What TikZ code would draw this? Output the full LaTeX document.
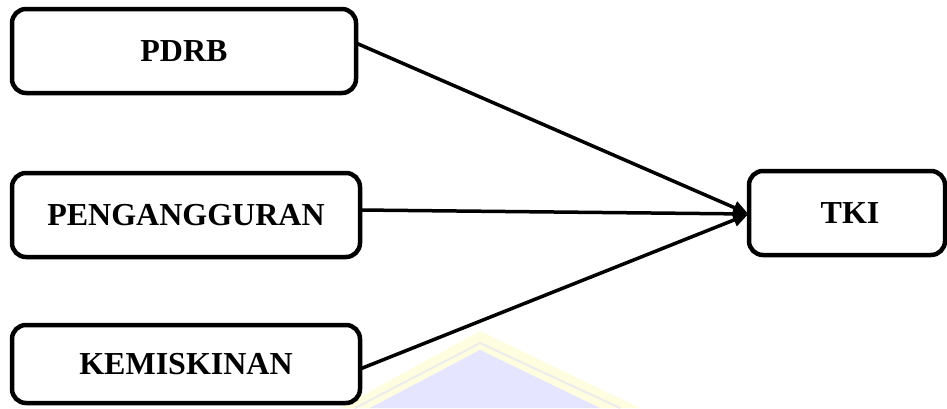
\documentclass[tikz,border=0pt]{standalone}
\usepackage{fontspec}
\setmainfont{Liberation Serif}
\usetikzlibrary{arrows.meta,calc}
\begin{document}
\begin{tikzpicture}[x=1pt,y=-1pt,
  box/.style={draw=black,line width=4.5pt,rounded corners=14pt,inner sep=0pt,outer sep=0pt,
    font=\fontsize{32}{38}\selectfont\bfseries,minimum height=84pt},
  conn/.style={line width=3.5pt,-{Triangle[length=15pt,width=13pt]},shorten >=1pt}]
\useasboundingbox (0,0) rectangle (947,408);
% faint watermark
\fill[yellow!12] (340,408) -- (480,331) -- (640,408) -- cycle;
\fill[blue!10] (370,408) -- (480,350) -- (600,408) -- cycle;
\draw[gray!15,line width=2pt] (355,408) -- (480,343) -- (620,408);
% boxes
\node[box,minimum width=344pt] (a) at (184,51) {PDRB};
\node[box,minimum width=348pt] (b) at (186,215) {PENGANGGURAN};
\node[box,minimum width=348pt,minimum height=78pt] (c) at (186,364) {KEMISKINAN};
\node[box,minimum width=196pt] (d) at (847,213) {\hspace*{6pt}TKI};
% connectors
\draw[conn] ($(a.east)+(0,-8)$) -- ($(d.west)+(0,1)$);
\draw[conn] ($(b.east)+(0,-5)$) -- ($(d.west)+(0,1)$);
\draw[conn] ($(c.east)+(0,5)$) -- ($(d.west)+(0,1)$);
\end{tikzpicture}
\end{document}
